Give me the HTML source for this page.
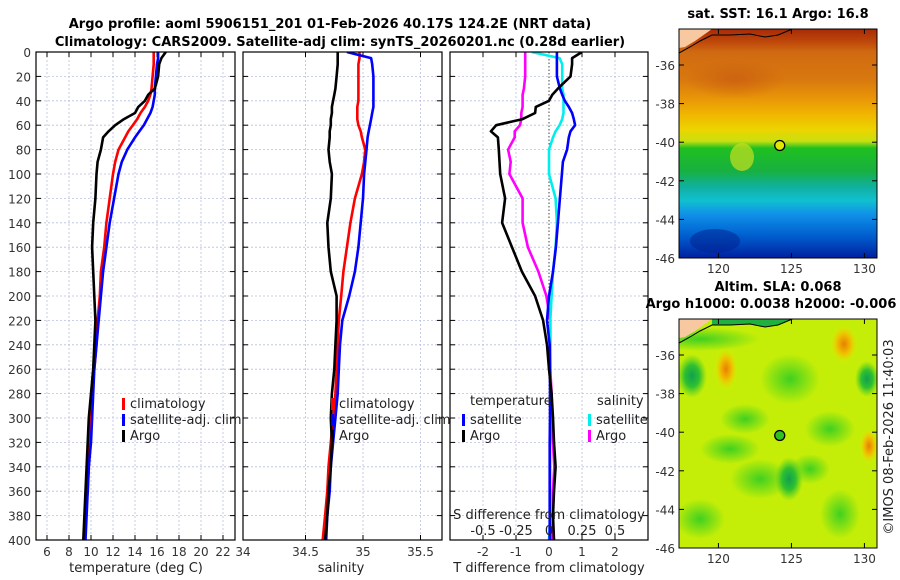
<!DOCTYPE html>
<html><head><meta charset="utf-8"><style>
body{margin:0;background:#fff}
svg{display:block;font-family:"DejaVu Sans","Liberation Sans",sans-serif}
.tk{font-size:12px;fill:#333}
.tt{font-size:13px;font-weight:bold;fill:#000}
.lg{font-size:13px;fill:#222}
</style></head><body>
<svg id="fig" width="900" height="580" viewBox="0 0 900 580">
<defs>
<linearGradient id="sstg" x1="0" y1="0" x2="0" y2="1">
<stop offset="0" stop-color="#a82a08"/><stop offset="0.06" stop-color="#c04a0a"/>
<stop offset="0.1" stop-color="#d06a12"/><stop offset="0.22" stop-color="#d8780e"/>
<stop offset="0.3" stop-color="#e89408"/><stop offset="0.37" stop-color="#f0b400"/>
<stop offset="0.44" stop-color="#ecd400"/><stop offset="0.49" stop-color="#c8e010"/>
<stop offset="0.52" stop-color="#20c020"/><stop offset="0.62" stop-color="#18b040"/>
<stop offset="0.69" stop-color="#10b0a0"/><stop offset="0.75" stop-color="#10c0d0"/>
<stop offset="0.81" stop-color="#1090e8"/><stop offset="0.9" stop-color="#0060d0"/>
<stop offset="1" stop-color="#0020a0"/>
</linearGradient>
<radialGradient id="orng"><stop offset="0" stop-color="#e88000"/><stop offset="0.5" stop-color="#f0c000"/><stop offset="1" stop-color="#d8f000" stop-opacity="0"/></radialGradient>
<radialGradient id="dgrn"><stop offset="0" stop-color="#10a050"/><stop offset="0.5" stop-color="#30c030"/><stop offset="1" stop-color="#50d020" stop-opacity="0"/></radialGradient>
<radialGradient id="lgrn"><stop offset="0" stop-color="#40d020"/><stop offset="1" stop-color="#40d020" stop-opacity="0"/></radialGradient>
<radialGradient id="brwn"><stop offset="0" stop-color="#c85a10"/><stop offset="1" stop-color="#c85a10" stop-opacity="0"/></radialGradient>
<clipPath id="c1"><rect x="36" y="52" width="199" height="488"/></clipPath>
<clipPath id="c2"><rect x="243" y="52" width="199" height="488"/></clipPath>
<clipPath id="c3"><rect x="450" y="52" width="198" height="488"/></clipPath>
<clipPath id="m1"><rect x="679" y="29" width="198" height="229"/></clipPath>
<clipPath id="m2"><rect x="679" y="319" width="198" height="229"/></clipPath>
</defs>
<text class="tt" x="330" y="28" text-anchor="middle">Argo profile: aoml 5906151_201 01-Feb-2026 40.17S 124.2E (NRT data)</text>
<text class="tt" x="340" y="46" text-anchor="middle">Climatology: CARS2009. Satellite-adj clim: synTS_20260201.nc (0.28d earlier)</text>
<g id="g"></g>
</svg>
<script>
// depth grid (m)
const depths=[0,5,10,20,30,35,40,45,50,55,60,65,70,80,90,100,120,140,160,180,200,220,240,260,280,300,320,340,360,380,400];
const argoT=[16.8,16.4,16.2,16.1,15.8,15.2,14.9,14.3,14.0,13.0,12.2,11.6,11.1,10.9,10.6,10.5,10.4,10.2,10.1,10.2,10.3,10.4,10.3,10.2,10.0,9.8,9.7,9.6,9.5,9.4,9.3];
const climT=[15.7,15.7,15.7,15.6,15.5,15.4,15.2,14.9,14.5,14.2,13.8,13.4,13.1,12.5,12.2,12.0,11.7,11.4,11.2,10.9,10.8,10.6,10.5,10.3,10.1,10.0,9.9,9.8,9.7,9.5,9.4];
const satT=[16.1,16.1,16.0,15.9,15.8,15.8,15.7,15.6,15.4,15.1,14.8,14.4,14.0,13.3,12.8,12.5,12.1,11.7,11.4,11.1,10.9,10.7,10.5,10.3,10.2,10.1,10.0,9.8,9.7,9.6,9.5];
const argoS=[34.78,34.78,34.78,34.77,34.76,34.75,34.74,34.73,34.73,34.72,34.72,34.71,34.71,34.70,34.71,34.73,34.72,34.69,34.70,34.72,34.77,34.77,34.76,34.75,34.73,34.72,34.73,34.72,34.70,34.69,34.67];
const climS=[34.97,34.97,34.96,34.96,34.96,34.96,34.96,34.95,34.95,34.95,34.96,34.98,34.99,35.02,35.01,34.99,34.93,34.89,34.86,34.83,34.81,34.79,34.78,34.77,34.76,34.74,34.72,34.70,34.69,34.67,34.65];
const satS=[34.86,35.07,35.08,35.09,35.09,35.09,35.09,35.09,35.08,35.07,35.06,35.05,35.04,35.03,35.02,35.01,35.0,34.98,34.96,34.93,34.88,34.82,34.80,34.79,34.78,34.76,34.74,34.72,34.71,34.69,34.68];
const argoDT=[1.0,0.7,0.7,0.65,0.27,0.1,0.0,-0.4,-0.42,-0.8,-1.6,-1.76,-1.55,-1.52,-1.5,-1.48,-1.33,-1.42,-1.12,-0.82,-0.42,-0.18,-0.06,0.0,0.08,0.12,0.15,0.2,0.15,0.12,0.15];
const satDT=[0.24,0.24,0.24,0.24,0.33,0.4,0.48,0.6,0.7,0.75,0.79,0.65,0.6,0.55,0.42,0.39,0.33,0.27,0.21,0.12,0.0,-0.06,0.02,0.03,0.03,0.03,0.02,0.02,0.02,0.02,0.02];
const argoDS=[-0.18,-0.18,-0.18,-0.18,-0.19,-0.2,-0.2,-0.2,-0.21,-0.21,-0.22,-0.26,-0.26,-0.31,-0.29,-0.3,-0.2,-0.2,-0.16,-0.08,-0.02,0.01,0.01,0.01,0.02,0.02,0.03,0.04,0.03,0.03,0.02];
const satDS=[-0.13,0.08,0.1,0.1,0.1,0.11,0.11,0.11,0.11,0.1,0.08,0.05,0.03,0.0,0.0,0.0,0.05,0.06,0.05,0.03,0.02,0.01,0.01,0.01,0.01,0.01,0.01,0.01,0.01,0.01,0.0];
const depthTicks=[0,20,40,60,80,100,120,140,160,180,200,220,240,260,280,300,320,340,360,380,400];
const tempTicks=[6,8,10,12,14,16,18,20,22];
const salTicks=[34.5,35,35.5];
const dtTicks=[-2,-1,0,1,2];
const dsTicks=[-0.5,-0.25,0,0.25,0.5];
const latTicks=[-36,-38,-40,-42,-44,-46];
const lonTicks=[120,125,130];
const argoLon=124.2, argoLat=-40.17;

const NS='http://www.w3.org/2000/svg';
const G=document.getElementById('g');
function el(tag,attrs,parent,txt){const e=document.createElementNS(NS,tag);for(const k in attrs)e.setAttribute(k,attrs[k]);if(txt!==undefined)e.textContent=txt;(parent||G).appendChild(e);return e;}
const yD=d=>52+d*488/400;
const xT=t=>36+(t-5)*11;
const xS=s=>363+(s-35)*115;
const xDT=v=>549+v*33;
const xDS=v=>549+v*132;

function panel(name){
  const g=el('g',{});
  
  
  return g;
}
function grid(g,x0,w,xs){
  depthTicks.forEach(d=>{el('line',{x1:x0,x2:x0+w,y1:yD(d),y2:yD(d),stroke:'#b8c0e0','stroke-width':0.8,'stroke-dasharray':'2,2'},g);
    el('line',{x1:x0,x2:x0+5,y1:yD(d),y2:yD(d),stroke:'#000'},g);el('line',{x1:x0+w-5,x2:x0+w,y1:yD(d),y2:yD(d),stroke:'#000'},g);});
  xs.forEach(x=>{el('line',{x1:x,x2:x,y1:52,y2:540,stroke:'#b8c0e0','stroke-width':0.8,'stroke-dasharray':'2,2'},g);
    el('line',{x1:x,x2:x,y1:535,y2:540,stroke:'#000'},g);el('line',{x1:x,x2:x,y1:52,y2:57,stroke:'#000'},g);});
}
function series(g,vals,fx,color,clip,name){
  const p=el('polyline',{points:vals.map((v,i)=>fx(v).toFixed(1)+','+yD(depths[i]).toFixed(1)).join(' '),fill:'none',stroke:color,'stroke-width':2.6,'stroke-linejoin':'round','clip-path':'url(#'+clip+')'},g);
  
  
}
function box(g,x0,w){el('rect',{x:x0,y:52,width:w,height:488,fill:'none',stroke:'#000','stroke-width':1.2},g);}
function legEntry(g,x,y,color,label,name){
  const e=el('g',{},g);
  
  
  el('rect',{x:x,y:y-10,width:3,height:12,fill:color},e);
  el('text',{x:x+8,y:y,class:'lg'},e,label);
}

// Panel 1 temperature
const p1=panel('temperature-panel');
grid(p1,36,199,tempTicks.map(xT));
series(p1,climT,xT,'#ff0000','c1','climatology-temperature-line');
series(p1,satT,xT,'#0000ff','c1','satellite-temperature-line');
series(p1,argoT,xT,'#000','c1','argo-temperature-line');
box(p1,36,199);
depthTicks.forEach(d=>el('text',{x:31,y:yD(d)+5,class:'tk','text-anchor':'end'},p1,d));
tempTicks.forEach(t=>el('text',{x:xT(t),y:556,class:'tk','text-anchor':'middle'},p1,t));
el('text',{x:136,y:572,class:'lg','text-anchor':'middle'},p1,'temperature (deg C)');
legEntry(p1,122,408,'#ff0000','climatology','legend-climatology');
legEntry(p1,122,424,'#0000ff','satellite-adj. clim','legend-satellite');
legEntry(p1,122,440,'#000','Argo','legend-argo');

// Panel 2 salinity
const p2=panel('salinity-panel');
grid(p2,243,199,salTicks.map(xS));
series(p2,climS,xS,'#ff0000','c2','climatology-salinity-line');
series(p2,satS,xS,'#0000ff','c2','satellite-salinity-line');
series(p2,argoS,xS,'#000','c2','argo-salinity-line');
box(p2,243,199);
el('text',{x:243,y:556,class:'tk','text-anchor':'middle'},p2,'34');
salTicks.forEach(t=>el('text',{x:xS(t),y:556,class:'tk','text-anchor':'middle'},p2,t));
el('text',{x:341,y:572,class:'lg','text-anchor':'middle'},p2,'salinity');
legEntry(p2,331,408,'#ff0000','climatology','legend-climatology-2');
legEntry(p2,331,424,'#0000ff','satellite-adj. clim','legend-satellite-2');
legEntry(p2,331,440,'#000','Argo','legend-argo-2');

// Panel 3 differences
const p3=panel('difference-panel');
grid(p3,450,198,dtTicks.filter(v=>v!==0).map(xDT));
el('line',{x1:549,x2:549,y1:52,y2:540,stroke:'#444','stroke-width':1,'stroke-dasharray':'1.5,2'},p3);
series(p3,argoDS,xDS,'#ff00ff','c3','argo-salinity-diff-line');
series(p3,satDS,xDS,'#00eeee','c3','satellite-salinity-diff-line');
series(p3,satDT,xDT,'#0000ff','c3','satellite-temperature-diff-line');
series(p3,argoDT,xDT,'#000','c3','argo-temperature-diff-line');
box(p3,450,198);
dtTicks.forEach(t=>el('text',{x:xDT(t),y:556,class:'tk','text-anchor':'middle'},p3,t));
el('text',{x:549,y:572,class:'lg','text-anchor':'middle'},p3,'T difference from climatology');
el('text',{x:549,y:519,class:'lg','text-anchor':'middle'},p3,'S difference from climatology');
dsTicks.forEach(t=>el('text',{x:xDS(t),y:535,class:'lg','text-anchor':'middle'},p3,t));
el('text',{x:470,y:405,class:'lg'},p3,'temperature');
el('text',{x:597,y:405,class:'lg'},p3,'salinity');
legEntry(p3,462,424,'#0000ff','satellite','legend-t-satellite');
legEntry(p3,462,440,'#000','Argo','legend-t-argo');
legEntry(p3,588,424,'#00eeee','satellite','legend-s-satellite');
legEntry(p3,588,440,'#ff00ff','Argo','legend-s-argo');

// Maps
const xL=lon=>679+(lon-117.3)*14.6;
function map(top,name,title1,title2,fillFn){
  const g=el('g',{});
  
  
  const yL=lat=>top+36+(-36-lat)*19.3;
  const bg=el('g',{'clip-path':'url(#'+(top<100?'m1':'m2')+')'},g);
  fillFn(bg,top);
  el('path',{d:`M679,${top} L712,${top} L705,${top+5} L695,${top+12} L685,${top+18} L679,${top+19}Z`,fill:'#f8c8a0'},bg);
  el('path',{d:`M679,${top+24} L690,${top+18} L700,${top+12} L712,${top+6} L730,${top+6} L750,${top+5} L765,${top+8} L778,${top+6} L790,${top+1} L797,${top-2}`,fill:'none',stroke:'#000','stroke-width':1},bg);
  el('rect',{x:679,y:top,width:198,height:229,fill:'none',stroke:'#000','stroke-width':1},g);
  latTicks.forEach(l=>{const y=yL(l);el('line',{x1:679,x2:684,y1:y,y2:y,stroke:'#000'},g);el('line',{x1:872,x2:877,y1:y,y2:y,stroke:'#000'},g);
    el('text',{x:675,y:y+5,class:'tk','text-anchor':'end'},g,l);});
  lonTicks.forEach(l=>{const x=xL(l);el('line',{x1:x,x2:x,y1:top+224,y2:top+229,stroke:'#000'},g);el('line',{x1:x,x2:x,y1:top,y2:top+5,stroke:'#000'},g);
    el('text',{x:x,y:top+244,class:'tk','text-anchor':'middle'},g,l);});
  const dot=el('circle',{cx:xL(argoLon),cy:yL(argoLat),r:5,fill:'none',stroke:'#000','stroke-width':1.3},g);
  
  
  el('text',{x:778,y:top-11-(title2?17:0),class:'tt','text-anchor':'middle'},g,title1);
  if(title2)el('text',{x:771,y:top-11,class:'tt','text-anchor':'middle'},g,title2);
  return dot;
}
const d1=map(29,'sst-map','sat. SST: 16.1 Argo: 16.8',null,(bg,top)=>{
  el('rect',{x:679,y:top,width:198,height:229,fill:'url(#sstg)'},bg);
  el('ellipse',{cx:735,cy:top+50,rx:50,ry:20,fill:'url(#brwn)',opacity:0.7},bg);
  el('ellipse',{cx:742,cy:top+128,rx:12,ry:14,fill:'#c8e020',opacity:0.7},bg);
  el('ellipse',{cx:715,cy:top+212,rx:25,ry:12,fill:'#002090',opacity:0.5},bg);
});
d1.setAttribute('fill','#e0e800');
map(319,'sla-map','Altim. SLA: 0.068','Argo h1000: 0.0038 h2000: -0.006',(bg,top)=>{
  el('rect',{x:679,y:top,width:198,height:229,fill:'#c4ee08'},bg);
  [[700,top+20,60,12],[790,top+60,30,25],[745,top+100,25,15],[830,top+110,25,18],[760,top+160,30,20],[700,top+200,25,20],[840,top+195,20,25],[730,top+130,30,15],[810,top+150,20,15]].forEach(a=>el('ellipse',{cx:a[0],cy:a[1],rx:a[2],ry:a[3],fill:'url(#lgrn)'},bg));
  el('ellipse',{cx:692,cy:top+57,rx:15,ry:22,fill:'url(#dgrn)'},bg);
  el('ellipse',{cx:789,cy:top+160,rx:14,ry:22,fill:'url(#dgrn)'},bg);
  el('ellipse',{cx:867,cy:top+60,rx:12,ry:18,fill:'url(#dgrn)'},bg);
  el('ellipse',{cx:726,cy:top+50,rx:12,ry:22,fill:'url(#orng)'},bg);
  el('ellipse',{cx:844,cy:top+25,rx:14,ry:20,fill:'url(#orng)'},bg);
  el('ellipse',{cx:869,cy:top+127,rx:10,ry:18,fill:'url(#orng)'},bg);
  el('path',{d:`M712,${top} L797,${top} L790,${top+1} L778,${top+6} L765,${top+8} L750,${top+5} L730,${top+6} L712,${top+6}Z`,fill:'#20b040'},bg);
}).setAttribute('fill','#30c020');
const cr=el('text',{x:0,y:0,class:'lg',transform:'translate(893,437) rotate(-90)','text-anchor':'middle'},G,'©IMOS 08-Feb-2026 11:40:03');


</script>
</body></html>
